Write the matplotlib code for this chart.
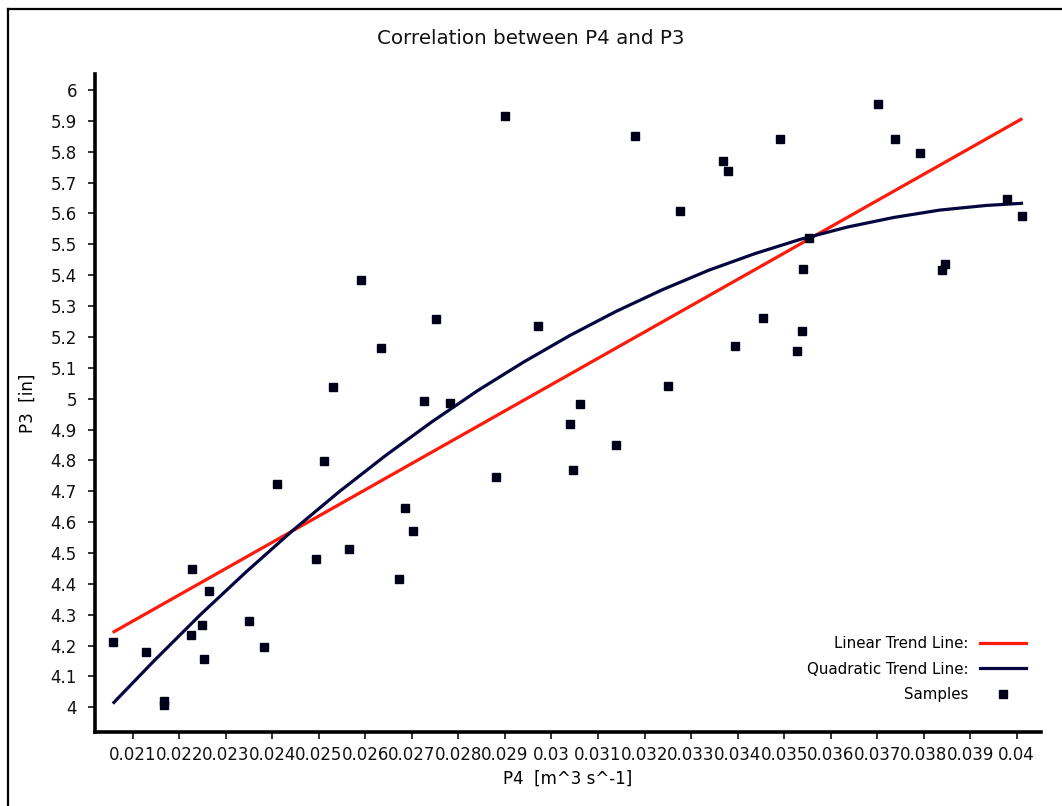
import matplotlib
matplotlib.use('Agg')
import matplotlib.pyplot as plt
from matplotlib.lines import Line2D
from matplotlib.ticker import FormatStrFormatter

# samples (P4, P3)
p4 = [0.020570, 0.021279, 0.021679, 0.021679, 0.022247, 0.022281, 0.022496,
      0.022539, 0.022646, 0.023499, 0.023828, 0.024108, 0.024939, 0.025111,
      0.025298, 0.025655, 0.025906, 0.026343, 0.026730, 0.026846, 0.027024,
      0.027267, 0.027518, 0.027813, 0.028808, 0.029001, 0.029704, 0.030398,
      0.030456, 0.030607, 0.031393, 0.031795, 0.032511, 0.032764, 0.033693,
      0.033800, 0.033944, 0.034546, 0.034911, 0.035270, 0.035378, 0.035406,
      0.035535, 0.037024, 0.037390, 0.037920, 0.038387, 0.038464, 0.039784,
      0.040119]
p3 = [4.211, 4.178, 4.022, 4.009, 4.233, 4.449, 4.268,
      4.157, 4.378, 4.279, 4.195, 4.723, 4.481, 4.799,
      5.038, 4.514, 5.383, 5.164, 4.416, 4.645, 4.570,
      4.992, 5.257, 4.987, 4.745, 5.917, 5.236, 4.918,
      4.768, 4.983, 4.851, 5.851, 5.040, 5.609, 5.770,
      5.738, 5.170, 5.263, 5.840, 5.155, 5.220, 5.419,
      5.521, 5.955, 5.840, 5.797, 5.416, 5.436, 5.648,
      5.593]

# linear trend line end points
lin_x = [0.020598, 0.040090]
lin_y = [4.245, 5.905]

# quadratic trend line
quad_x = [0.020596, 0.021460, 0.022453, 0.023446, 0.024439, 0.025432, 0.026427,
          0.027420, 0.028412, 0.029405, 0.030398, 0.031391, 0.032384, 0.033377,
          0.034372, 0.035365, 0.036358, 0.037351, 0.038344, 0.039337, 0.040102]
quad_y = [4.016, 4.151, 4.300, 4.440, 4.573, 4.698, 4.815,
          4.924, 5.026, 5.119, 5.205, 5.283, 5.353, 5.416,
          5.470, 5.517, 5.556, 5.587, 5.611, 5.626, 5.633]

x_ticks = [round(0.021 + 0.001 * i, 3) for i in range(20)]
y_ticks = [round(4.0 + 0.1 * i, 1) for i in range(21)]

RED = '#ff1a0a'
NAVY = '#05053f'
FS = 12

plt.rcParams['font.family'] = ['DejaVu Sans']

fig = plt.figure(figsize=(10.62, 8.06), dpi=100)
ax = fig.add_axes([0.0895, 0.0914, 0.8904, 0.8168])

ax.plot(lin_x, lin_y, color=RED, lw=2.3, label='Linear Trend Line:')
ax.plot(quad_x, quad_y, color=NAVY, lw=2.3, label='Quadratic Trend Line:')
ax.plot(p4, p3, ls='none', marker='s', ms=5.8, color='#00001a', label='Samples')

ax.set_xlim(0.02019, 0.040514)
ax.set_ylim(3.919, 6.052)
ax.set_xticks(x_ticks)
ax.set_yticks(y_ticks)
ax.xaxis.set_major_formatter(FormatStrFormatter('%g'))
ax.yaxis.set_major_formatter(FormatStrFormatter('%g'))
ax.tick_params(axis='both', labelsize=FS, length=5, width=1.2, colors='#111111', pad=8)
ax.tick_params(axis='x', pad=5)

for side in ['top', 'right']:
    ax.spines[side].set_visible(False)
for side in ['left', 'bottom']:
    ax.spines[side].set_linewidth(2.6)
    ax.spines[side].set_color('black')

ax.set_xlabel('P4  [m^3 s^-1]', fontsize=FS, labelpad=4)
ax.set_ylabel('P3  [in]', fontsize=FS, labelpad=10)

fig.text(0.5, 1 - 39 / 806, 'Correlation between P4 and P3', ha='center', va='center',
         fontsize=14.3, color='#111111')

ax.legend(loc='lower right', bbox_to_anchor=(0.9845, 0.046), markerfirst=False,
          frameon=False, fontsize=10.8, handlelength=3.05, handletextpad=0.8,
          labelspacing=0.7, borderpad=0, borderaxespad=0)

# outer border (only top and left edges show)
fig.add_artist(Line2D([7.5 / 1062, 7.5 / 1062], [0, 1 - 9 / 806], color='black', lw=1.6))
fig.add_artist(Line2D([7.5 / 1062, 1], [1 - 9 / 806, 1 - 9 / 806], color='black', lw=1.6))

fig.savefig('out.png', dpi=100)
